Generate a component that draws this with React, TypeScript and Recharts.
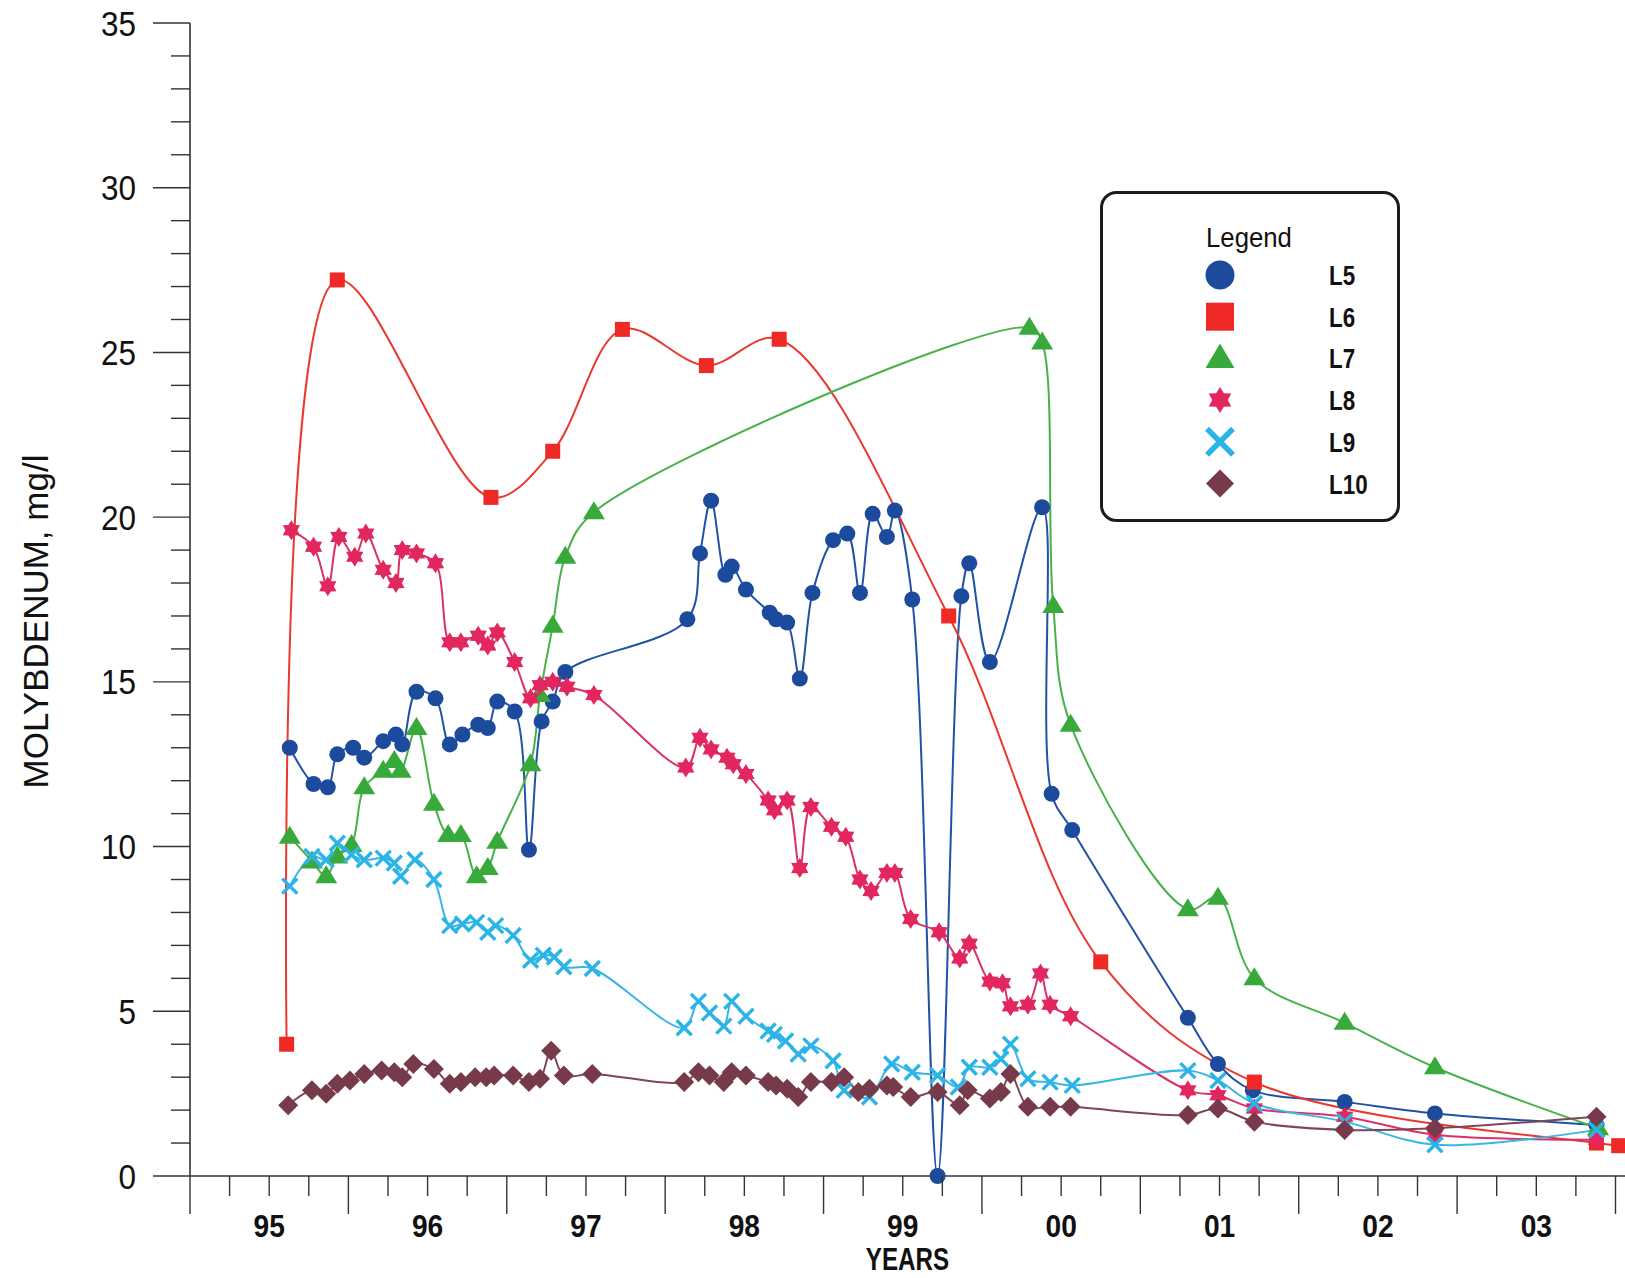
import React from "react";
import { LineChart, Line, XAxis, YAxis, Legend } from "recharts";

// [year, mg/l]  (95 = 1995, 100 = 2000, 103 = 2003)
const L5 = [
  [95.63, 13.0], [95.78, 11.9], [95.87, 11.8], [95.93, 12.8], [96.03, 13.0], [96.1, 12.7],
  [96.22, 13.2], [96.3, 13.4], [96.34, 13.1], [96.43, 14.7], [96.55, 14.5], [96.64, 13.1],
  [96.72, 13.4], [96.82, 13.7], [96.88, 13.6], [96.94, 14.4], [97.05, 14.1], [97.14, 9.9],
  [97.22, 13.8], [97.29, 14.4], [97.37, 15.3], [98.14, 16.9], [98.22, 18.9], [98.29, 20.5],
  [98.38, 18.25], [98.42, 18.5], [98.51, 17.8], [98.66, 17.1], [98.7, 16.9], [98.77, 16.8],
  [98.85, 15.1], [98.93, 17.7], [99.06, 19.3], [99.15, 19.5], [99.23, 17.7], [99.31, 20.1],
  [99.4, 19.4], [99.45, 20.2], [99.56, 17.5], [99.72, 0], [99.87, 17.6], [99.92, 18.6],
  [100.05, 15.6], [100.38, 20.3], [100.44, 11.6], [100.57, 10.5], [101.3, 4.8], [101.49, 3.4],
  [101.71, 2.6], [102.29, 2.25], [102.86, 1.9], [103.88, 1.55],
];

const L6 = [
  [95.61, 4.0], [95.93, 27.2], [96.9, 20.6], [97.29, 22.0], [97.73, 25.7], [98.26, 24.6],
  [98.72, 25.4], [99.79, 17.0], [100.75, 6.5], [101.72, 2.85], [103.88, 1.0], [104.02, 0.92],
];

const L7 = [
  [95.63, 10.3], [95.77, 9.55], [95.86, 9.1], [95.93, 9.7], [96.02, 10.05], [96.1, 11.8],
  [96.22, 12.3], [96.29, 12.6], [96.33, 12.3], [96.43, 13.6], [96.54, 11.3], [96.63, 10.35],
  [96.71, 10.35], [96.81, 9.1], [96.88, 9.35], [96.94, 10.15], [97.15, 12.5], [97.21, 14.6],
  [97.29, 16.7], [97.37, 18.8], [97.55, 20.15], [100.3, 25.75], [100.38, 25.3], [100.45, 17.3],
  [100.56, 13.7], [101.3, 8.1], [101.49, 8.45], [101.72, 6.0], [102.29, 4.65], [102.86, 3.3],
  [103.89, 1.45],
];

const L8 = [
  [95.64, 19.6], [95.78, 19.1], [95.87, 17.9], [95.94, 19.4], [96.04, 18.8], [96.11, 19.5],
  [96.22, 18.4], [96.3, 18.0], [96.34, 19.0], [96.43, 18.9], [96.55, 18.6], [96.64, 16.2],
  [96.71, 16.2], [96.82, 16.4], [96.88, 16.1], [96.94, 16.5], [97.05, 15.6], [97.15, 14.5],
  [97.21, 14.9], [97.29, 15.0], [97.38, 14.85], [97.55, 14.6], [98.13, 12.4], [98.22, 13.3],
  [98.29, 12.95], [98.39, 12.7], [98.43, 12.5], [98.51, 12.2], [98.65, 11.4], [98.69, 11.1],
  [98.77, 11.4], [98.85, 9.35], [98.92, 11.2], [99.05, 10.6], [99.14, 10.3], [99.23, 9.0],
  [99.3, 8.65], [99.4, 9.2], [99.45, 9.2], [99.55, 7.8], [99.73, 7.4], [99.86, 6.6],
  [99.92, 7.05], [100.05, 5.9], [100.13, 5.85], [100.18, 5.15], [100.29, 5.2], [100.37, 6.15],
  [100.43, 5.2], [100.56, 4.85], [101.3, 2.6], [101.49, 2.45], [101.72, 2.05], [102.29, 1.8],
  [102.86, 1.25], [103.88, 1.1],
];

const L9 = [
  [95.63, 8.8], [95.77, 9.7], [95.86, 9.6], [95.93, 10.1], [96.02, 9.75], [96.1, 9.6],
  [96.22, 9.65], [96.29, 9.5], [96.33, 9.1], [96.42, 9.6], [96.54, 9.0], [96.64, 7.6],
  [96.72, 7.65], [96.81, 7.7], [96.88, 7.4], [96.93, 7.6], [97.04, 7.3], [97.15, 6.55],
  [97.23, 6.7], [97.3, 6.65], [97.36, 6.35], [97.54, 6.3], [98.12, 4.5], [98.21, 5.3],
  [98.28, 4.95], [98.37, 4.55], [98.42, 5.3], [98.51, 4.85], [98.65, 4.4], [98.69, 4.3],
  [98.76, 4.1], [98.84, 3.7], [98.92, 3.95], [99.06, 3.5], [99.13, 2.6], [99.29, 2.4],
  [99.43, 3.4], [99.56, 3.15], [99.72, 3.05], [99.85, 2.7], [99.92, 3.3], [100.05, 3.3],
  [100.12, 3.55], [100.18, 4.0], [100.29, 2.95], [100.43, 2.85], [100.57, 2.75], [101.3, 3.2],
  [101.49, 2.9], [101.72, 2.2], [102.29, 1.65], [102.86, 0.95], [103.88, 1.4],
];

const L10 = [
  [95.62, 2.15], [95.77, 2.6], [95.86, 2.5], [95.93, 2.8], [96.01, 2.9], [96.1, 3.1],
  [96.21, 3.2], [96.29, 3.15], [96.34, 3.0], [96.41, 3.4], [96.54, 3.25], [96.64, 2.8],
  [96.71, 2.85], [96.8, 3.0], [96.87, 3.0], [96.92, 3.05], [97.04, 3.05], [97.14, 2.85],
  [97.21, 2.95], [97.28, 3.8], [97.36, 3.05], [97.54, 3.1], [98.12, 2.85], [98.21, 3.15],
  [98.28, 3.05], [98.37, 2.85], [98.42, 3.15], [98.51, 3.05], [98.65, 2.85], [98.7, 2.75],
  [98.77, 2.65], [98.84, 2.4], [98.92, 2.85], [99.05, 2.85], [99.13, 3.0], [99.22, 2.55],
  [99.29, 2.65], [99.4, 2.75], [99.44, 2.7], [99.55, 2.4], [99.72, 2.55], [99.86, 2.15],
  [99.91, 2.6], [100.05, 2.35], [100.12, 2.55], [100.18, 3.1], [100.29, 2.1], [100.43, 2.1],
  [100.56, 2.1], [101.3, 1.85], [101.49, 2.05], [101.72, 1.65], [102.29, 1.4], [102.86, 1.45],
  [103.88, 1.8],
];

const YEAR_LABELS = ["95", "96", "97", "98", "99", "00", "01", "02", "03"];
const Y_LABELS = ["0", "5", "10", "15", "20", "25", "30", "35"];

const X_TICKS = Array.from({ length: 37 }, (_, i) => 95 + i * 0.25);
const Y_TICKS = Array.from({ length: 36 }, (_, i) => i);

const SERIES = [
  { name: "L5", data: L5, color: "#1c4b9e", line: "#2152a6", shape: "circle" },
  { name: "L6", data: L6, color: "#ef2a26", line: "#e9392f", shape: "square" },
  { name: "L7", data: L7, color: "#38a93b", line: "#48b24a", shape: "triangle" },
  { name: "L8", data: L8, color: "#e2275f", line: "#da3169", shape: "star" },
  { name: "L9", data: L9, color: "#2bb4e7", line: "#38b6e6", shape: "x" },
  { name: "L10", data: L10, color: "#763a4b", line: "#7e4755", shape: "diamond" },
];

const AXIS = "#333";
const SANS = "'Liberation Sans', Arial, sans-serif";

// centripetal catmull-rom, same maths as d3's curveCatmullRom(0.5)
function catmullRom(context: any) {
  let pts: number[][] = [];
  return {
    areaStart() {},
    areaEnd() {},
    lineStart() {
      pts = [];
    },
    point(x: number, y: number) {
      pts.push([+x, +y]);
    },
    lineEnd() {
      if (!pts.length) return;
      const la = (a: number[], b: number[]) => Math.sqrt(Math.hypot(b[0] - a[0], b[1] - a[1]));
      context.moveTo(pts[0][0], pts[0][1]);
      for (let i = 0; i + 1 < pts.length; i++) {
        const p0 = pts[i - 1], p1 = pts[i], p2 = pts[i + 1], p3 = pts[i + 2];
        const l12 = la(p1, p2), l12s = l12 * l12;
        let c1 = [p1[0], p1[1]];
        let c2 = [p2[0], p2[1]];
        if (p0) {
          const l01 = la(p0, p1);
          if (l01 > 1e-9) {
            const a = 2 * l01 * l01 + 3 * l01 * l12 + l12s;
            const n = 3 * l01 * (l01 + l12);
            c1 = [0, 1].map((k) => (p1[k] * a - p0[k] * l12s + p2[k] * l01 * l01) / n);
          }
        }
        if (p3) {
          const l23 = la(p2, p3);
          if (l23 > 1e-9) {
            const b = 2 * l23 * l23 + 3 * l23 * l12 + l12s;
            const m = 3 * l23 * (l23 + l12);
            c2 = [0, 1].map((k) => (p2[k] * b + p1[k] * l23 * l23 - p3[k] * l12s) / m);
          }
        }
        context.bezierCurveTo(c1[0], c1[1], c2[0], c2[1], p2[0], p2[1]);
      }
    },
  };
}

function Marker({ shape, cx, cy, color, big }: any) {
  const k = big ? 1 : 0;
  if (shape === "circle") {
    return <circle cx={cx} cy={cy} r={[8, 14.5][k]} fill={color} />;
  }
  if (shape === "square") {
    const h = [7.5, 14][k];
    return <rect x={cx - h} y={cy - h} width={2 * h} height={2 * h} fill={color} />;
  }
  if (shape === "triangle") {
    const w = [11, 14.5][k];
    const t = [11, 15][k];
    const b = [7, 9.5][k];
    return <polygon points={`${cx},${cy - t} ${cx + w},${cy + b} ${cx - w},${cy + b}`} fill={color} />;
  }
  if (shape === "star") {
    const R = [10, 13][k];
    const r = R * 0.6;
    const p = Array.from({ length: 12 }, (_, i) => {
      const ang = (Math.PI / 6) * i - Math.PI / 2;
      const rad = i % 2 === 0 ? R : r;
      return `${cx + rad * Math.cos(ang)},${cy + rad * Math.sin(ang)}`;
    }).join(" ");
    return <polygon points={p} fill={color} />;
  }
  if (shape === "x") {
    const h = [7.5, 13][k];
    const sw = [3.4, 5.5][k];
    return (
      <g stroke={color} strokeWidth={sw} strokeLinecap="butt">
        <line x1={cx - h} y1={cy - h} x2={cx + h} y2={cy + h} />
        <line x1={cx - h} y1={cy + h} x2={cx + h} y2={cy - h} />
      </g>
    );
  }
  const d = [10, 14][k];
  return <polygon points={`${cx},${cy - d} ${cx + d},${cy} ${cx},${cy + d} ${cx - d},${cy}`} fill={color} />;
}

function XTick(props: any) {
  const { x, y, payload } = props;
  const v = payload.value;
  const whole = Math.abs(v - Math.round(v)) < 1e-6;
  const mid = Math.abs(v - Math.floor(v) - 0.5) < 1e-6;
  return (
    <g>
      <line x1={x} y1={y} x2={x} y2={y + (whole ? 38 : 20)} stroke={AXIS} strokeWidth={1.4} />
      {mid && (
        <text
          transform={`translate(${x},${y + 61}) scale(0.88,1)`}
          textAnchor="middle"
          fontSize={32}
          fontWeight="bold"
          fontFamily={SANS}
          fill="#111"
        >
          {YEAR_LABELS[Math.floor(v) - 95]}
        </text>
      )}
    </g>
  );
}

function YTick(props: any) {
  const { x, y, payload } = props;
  const v = payload.value;
  const major = v % 5 === 0;
  return (
    <g>
      <line x1={x - (major ? 37 : 19)} y1={y} x2={x} y2={y} stroke={AXIS} strokeWidth={1.4} />
      {major && (
        <text
          transform={`translate(${x - 54},${y + 12.5}) scale(0.9,1)`}
          textAnchor="end"
          fontSize={35}
          fontFamily={SANS}
          fill="#111"
        >
          {Y_LABELS[v / 5]}
        </text>
      )}
    </g>
  );
}

function YearsLabel(props: any) {
  const { x, y, width } = props.viewBox;
  return (
    <text
      transform={`translate(${x + width / 2},${y + 94}) scale(0.78,1)`}
      textAnchor="middle"
      fontSize={31}
      fontWeight="bold"
      fontFamily={SANS}
      fill="#111"
    >
      YEARS
    </text>
  );
}

function MoLabel(props: any) {
  const { x, y, height } = props.viewBox;
  return (
    <text
      transform={`translate(${x - 82},${y + height / 2 + 22}) rotate(-90)`}
      textAnchor="middle"
      fontSize={35}
      fontFamily={SANS}
      fill="#111"
    >
      MOLYBDENUM, mg/l
    </text>
  );
}

function LegendBox() {
  return (
    <svg width={300} height={332}>
      <rect x={1.5} y={1.5} width={297} height={328} rx={15} fill="#fff" stroke="#1b1b1b" strokeWidth={3} />
      <text transform="translate(106,56) scale(0.92,1)" fontSize={28} fontFamily={SANS} fill="#111">
        Legend
      </text>
      {SERIES.map((s, i) => {
        const cy = 84 + i * 41.7;
        return (
          <g key={s.name}>
            <Marker shape={s.shape} cx={120} cy={cy} color={s.color} big />
            <text
              transform={`translate(229,${cy + 10}) scale(0.8,1)`}
              fontSize={28}
              fontWeight="bold"
              fontFamily={SANS}
              fill="#111"
            >
              {s.name}
            </text>
          </g>
        );
      })}
    </svg>
  );
}

export default function App() {
  return (
    <div style={{ position: "absolute", left: 0, top: 0, width: 1625, height: 1278, background: "#fff" }}>
      <LineChart width={1625} height={1278} margin={{ top: 23, right: 0, bottom: 42, left: 130 }}>
        <XAxis
          type="number"
          dataKey="x"
          domain={[95, 104.06]}
          ticks={X_TICKS}
          interval={0}
          tickSize={0}
          tickMargin={0}
          tickLine={false}
          tick={XTick}
          height={60}
          axisLine={{ stroke: AXIS, strokeWidth: 1.6 }}
          label={{ value: "YEARS", content: YearsLabel }}
        />
        <YAxis
          type="number"
          dataKey="y"
          domain={[0, 35]}
          ticks={Y_TICKS}
          interval={0}
          tickSize={0}
          tickMargin={0}
          tickLine={false}
          tick={YTick}
          width={60}
          axisLine={{ stroke: AXIS, strokeWidth: 1.6 }}
          label={{ value: "MOLYBDENUM, mg/l", content: MoLabel }}
        />
        <Legend
          layout="vertical"
          align="center"
          verticalAlign="middle"
          content={LegendBox}
          wrapperStyle={{ position: "absolute", left: 1100, top: 191, width: 300, height: 332 }}
        />
        {SERIES.map((s) => (
          <Line
            key={s.name}
            name={s.name}
            data={s.data.map(([x, y]) => ({ x, y }))}
            dataKey="y"
            type={catmullRom as any}
            stroke={s.line}
            strokeWidth={2}
            isAnimationActive={false}
            activeDot={false}
            dot={(p: any) => (
              <Marker key={`${s.name}-${p.index}`} shape={s.shape} cx={p.cx} cy={p.cy} color={s.color} />
            )}
          />
        ))}
      </LineChart>
    </div>
  );
}
